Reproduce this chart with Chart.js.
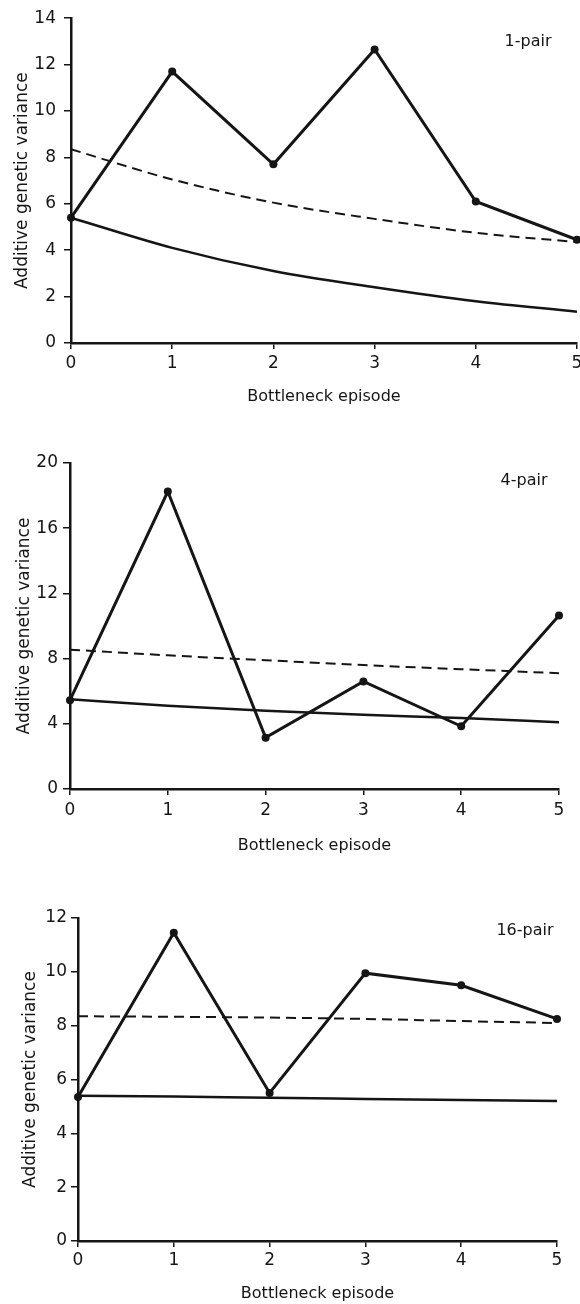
<!DOCTYPE html>
<html><head><meta charset="utf-8">
<script src="https://cdn.jsdelivr.net/npm/chart.js@4.4.1/dist/chart.umd.min.js"></script>
<style>
html,body{margin:0;padding:0;background:#fff;overflow:hidden;}
#wrap{position:relative;width:580px;height:1304px;overflow:hidden;background:#fff;}
canvas{position:absolute;left:0;}
</style></head><body>
<div id="wrap">
<canvas id="c1" width="600" height="420" style="top:0px"></canvas>
<canvas id="c2" width="600" height="440" style="top:420px"></canvas>
<canvas id="c3" width="600" height="444" style="top:860px"></canvas>
</div>
<script>
// ---- data ----
const episodes = [0, 1, 2, 3, 4, 5];
const xTickLabels = ['0', '1', '2', '3', '4', '5'];
const xTitle = 'Bottleneck episode';
const yTitle = 'Additive genetic variance';
const panelLabels = ['1-pair', '4-pair', '16-pair'];

const observed1 = [5.4, 11.7, 7.7, 12.65, 6.1, 4.45];
const dashed1   = [8.35, 7.05, 6.05, 5.35, 4.75, 4.35];
const solid1    = [5.4, 4.1, 3.1, 2.4, 1.8, 1.35];
const yTicks1   = [0, 2, 4, 6, 8, 10, 12, 14];

const observed2 = [5.45, 18.25, 3.15, 6.6, 3.85, 10.65];
const dashed2   = [8.55, 8.2, 7.9, 7.6, 7.35, 7.1];
const solid2    = [5.5, 5.1, 4.8, 4.55, 4.35, 4.1];
const yTicks2   = [0, 4, 8, 12, 16, 20];

const observed3 = [5.35, 11.45, 5.5, 9.95, 9.5, 8.25];
const dashed3   = [8.35, 8.33, 8.3, 8.25, 8.17, 8.1];
const solid3    = [5.4, 5.37, 5.32, 5.28, 5.24, 5.2];
const yTicks3   = [0, 2, 4, 6, 8, 10, 12];

// ---- layout / style (not data) ----
const INK = '#151515';
const FONT = 'DejaVu Sans, Liberation Sans, sans-serif';
const layouts = [
  {id:'c1', pad:{left:0, right:23, top:17, bottom:0}, yW:71, xH:77, xTitlePad:14, yTitlePad:12, yTickPad:8, xTickPad:4, labelDx:-49, labelDy:24},
  {id:'c2', pad:{left:0, right:41, top:43, bottom:0}, yW:70, xH:71, xTitlePad:5,  yTitlePad:14, yTickPad:5, xTickPad:5, labelDx:-35, labelDy:18},
  {id:'c3', pad:{left:0, right:43, top:58, bottom:0}, yW:78, xH:63, xTitlePad:1,  yTitlePad:20, yTickPad:4, xTickPad:3, labelDx:-32, labelDy:13}
];
const series = [
  {obs:observed1, dash:dashed1, sol:solid1, ticks:yTicks1},
  {obs:observed2, dash:dashed2, sol:solid2, ticks:yTicks2},
  {obs:observed3, dash:dashed3, sol:solid3, ticks:yTicks3}
];

function pts(vals){ return episodes.map((e,i)=>({x:e, y:vals[i]})); }

const panelLabelPlugin = {
  id: 'panelLabel',
  afterDraw(chart, args, opts){
    const {ctx, chartArea} = chart;
    ctx.save();
    ctx.font = '16px ' + FONT;
    ctx.fillStyle = INK;
    ctx.textAlign = 'center';
    ctx.textBaseline = 'middle';
    ctx.fillText(opts.text, chartArea.right + opts.dx, chartArea.top + opts.dy);
    ctx.restore();
  }
};

layouts.forEach((L, k) => {
  const S = series[k];
  new Chart(document.getElementById(L.id), {
    type: 'line',
    data: {
      datasets: [
        {data: pts(S.obs), borderColor: INK, borderWidth: 3, pointRadius: 4, pointBackgroundColor: INK, pointBorderWidth: 0, tension: 0, clip: false},
        {data: pts(S.dash), borderColor: INK, borderWidth: 2, borderDash: [10, 6], pointRadius: 0, cubicInterpolationMode: 'monotone', clip: false},
        {data: pts(S.sol), borderColor: INK, borderWidth: 2.5, pointRadius: 0, cubicInterpolationMode: 'monotone', clip: false}
      ]
    },
    options: {
      responsive: false,
      animation: false,
      devicePixelRatio: 1,
      layout: {padding: L.pad},
      plugins: {
        legend: {display: false},
        tooltip: {enabled: false},
        panelLabel: {text: panelLabels[k], dx: L.labelDx, dy: L.labelDy}
      },
      scales: {
        x: {
          type: 'linear', min: 0, max: 5,
          afterBuildTicks(scale){ scale.ticks = episodes.map(v => ({value: v})); },
          afterFit(scale){ scale.height = L.xH; },
          ticks: {
            color: INK, padding: L.xTickPad, maxRotation: 0, autoSkip: false,
            font: {family: FONT, size: 17},
            callback: (v) => xTickLabels[episodes.indexOf(v)]
          },
          grid: {drawOnChartArea: false, drawTicks: true, tickLength: 6, color: INK, lineWidth: 1.5},
          border: {display: true, color: INK, width: 2.5},
          title: {display: true, text: xTitle, color: INK, font: {family: FONT, size: 16}, padding: {top: 0, bottom: L.xTitlePad}}
        },
        y: {
          type: 'linear', min: S.ticks[0], max: S.ticks[S.ticks.length - 1],
          afterBuildTicks(scale){ scale.ticks = S.ticks.map(v => ({value: v})); },
          afterFit(scale){ scale.width = L.yW; },
          ticks: {color: INK, padding: L.yTickPad, font: {family: FONT, size: 17}},
          grid: {drawOnChartArea: false, drawTicks: true, tickLength: 7, color: INK, lineWidth: 1.5},
          border: {display: true, color: INK, width: 2.5},
          title: {display: true, text: yTitle, color: INK, font: {family: FONT, size: 17}, padding: {top: L.yTitlePad, bottom: 0}}
        }
      }
    },
    plugins: [panelLabelPlugin]
  });
});
</script>
</body></html>
